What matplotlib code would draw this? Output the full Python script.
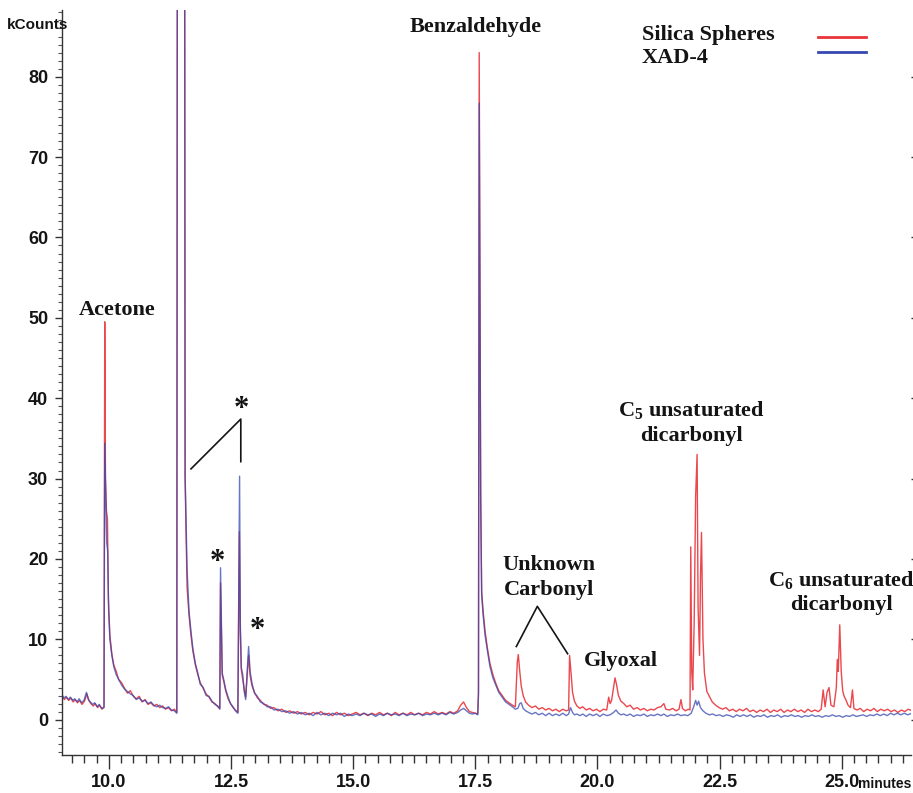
import numpy as np
import matplotlib.pyplot as plt
from matplotlib.ticker import MultipleLocator

# retention time (minutes), signal (kCounts)
silica_pts = [
    (9.04, 2.9), (9.09, 2.5), (9.13, 2.8), (9.18, 2.4), (9.22, 2.7), (9.27, 2.2),
    (9.31, 2.5), (9.36, 2.1), (9.40, 2.4), (9.45, 1.9), (9.50, 2.3), (9.55, 3.2),
    (9.59, 2.4), (9.63, 2.0), (9.68, 1.7), (9.72, 2.0), (9.77, 1.5), (9.81, 1.8),
    (9.86, 1.3), (9.90, 1.6), (9.915, 49.5), (9.93, 30.0), (9.95, 26.0), (9.97, 25.0),
    (9.99, 15.0), (10.02, 10.5), (10.06, 8.2), (10.10, 6.8), (10.15, 6.0), (10.20, 5.0),
    (10.26, 4.6), (10.32, 3.9), (10.38, 3.3), (10.44, 3.6), (10.50, 2.9), (10.56, 2.6),
    (10.62, 2.9), (10.68, 2.2), (10.74, 2.5), (10.80, 1.9), (10.86, 2.1), (10.92, 1.7),
    (10.98, 1.9), (11.04, 1.5), (11.10, 1.7), (11.16, 1.3), (11.22, 1.5), (11.28, 1.1),
    (11.34, 1.3), (11.39, 0.9), (11.41, 180), (11.54, 180), (11.56, 30.0), (11.60, 16.5),
    (11.64, 13.0), (11.68, 10.5), (11.72, 8.5), (11.77, 6.8), (11.82, 5.6), (11.87, 4.6),
    (11.93, 3.9), (11.99, 3.2), (12.05, 2.8), (12.11, 2.2), (12.17, 2.0), (12.23, 1.6),
    (12.27, 1.4), (12.285, 17.0), (12.30, 12.0), (12.32, 5.5), (12.35, 4.8), (12.39, 3.6),
    (12.44, 2.6), (12.49, 2.0), (12.54, 1.5), (12.59, 1.2), (12.64, 0.9), (12.67, 23.4),
    (12.69, 11.0), (12.71, 6.2), (12.74, 5.0), (12.77, 3.8), (12.80, 2.8), (12.83, 5.5),
    (12.86, 8.0), (12.89, 5.5), (12.93, 4.2), (12.98, 3.4), (13.04, 2.7), (13.10, 2.4),
    (13.17, 1.9), (13.24, 1.8), (13.31, 1.4), (13.38, 1.5), (13.46, 1.1), (13.54, 1.3),
    (13.62, 0.9), (13.70, 1.1), (13.78, 0.8), (13.86, 1.0), (13.94, 0.7), (14.02, 0.9),
    (14.10, 0.6), (14.18, 0.9), (14.26, 0.7), (14.34, 1.0), (14.42, 0.6), (14.50, 0.8),
    (14.58, 0.5), (14.66, 0.9), (14.74, 0.6), (14.82, 0.8), (14.90, 0.5), (14.98, 0.7),
    (15.06, 0.9), (15.14, 0.6), (15.22, 0.8), (15.30, 0.5), (15.38, 0.8), (15.46, 0.6),
    (15.54, 0.9), (15.62, 0.6), (15.70, 0.8), (15.78, 0.5), (15.86, 0.9), (15.94, 0.6),
    (16.02, 0.8), (16.10, 0.6), (16.18, 0.9), (16.26, 0.6), (16.34, 0.8), (16.42, 0.6),
    (16.50, 0.9), (16.58, 0.7), (16.66, 1.0), (16.74, 0.7), (16.82, 0.9), (16.90, 0.7),
    (16.98, 1.0), (17.06, 0.8), (17.14, 1.1), (17.20, 1.8), (17.26, 2.2), (17.32, 1.5),
    (17.38, 1.0), (17.44, 0.9), (17.50, 0.8), (17.55, 0.7), (17.565, 3.5), (17.58, 83.0),
    (17.595, 54.0), (17.61, 29.0), (17.63, 16.0), (17.66, 13.5), (17.70, 11.0), (17.75, 8.8),
    (17.80, 7.0), (17.86, 5.6), (17.92, 4.5), (17.98, 3.6), (18.05, 3.0), (18.12, 2.4),
    (18.19, 2.1), (18.26, 1.8), (18.32, 1.6), (18.36, 7.2), (18.38, 8.1), (18.41, 6.0),
    (18.44, 4.2), (18.48, 3.0), (18.53, 2.2), (18.59, 1.8), (18.66, 1.5), (18.73, 1.7),
    (18.80, 1.3), (18.87, 1.5), (18.94, 1.2), (19.01, 1.4), (19.08, 1.1), (19.15, 1.3),
    (19.22, 1.0), (19.29, 1.3), (19.36, 1.1), (19.41, 1.2), (19.43, 8.0), (19.46, 5.8),
    (19.49, 3.4), (19.53, 2.3), (19.58, 1.7), (19.64, 1.4), (19.70, 1.6), (19.77, 1.2),
    (19.84, 1.4), (19.91, 1.1), (19.98, 1.3), (20.05, 1.0), (20.12, 1.3), (20.19, 1.2),
    (20.23, 2.8), (20.26, 2.0), (20.29, 2.4), (20.33, 4.0), (20.36, 5.2), (20.39, 4.4),
    (20.43, 3.0), (20.48, 2.3), (20.54, 2.0), (20.60, 1.6), (20.67, 1.8), (20.74, 1.3),
    (20.81, 1.5), (20.88, 1.2), (20.95, 1.4), (21.02, 1.1), (21.09, 1.3), (21.16, 1.2),
    (21.23, 1.5), (21.30, 1.6), (21.36, 2.0), (21.40, 1.3), (21.47, 1.2), (21.54, 1.4),
    (21.61, 1.1), (21.67, 1.3), (21.71, 2.5), (21.74, 1.4), (21.80, 1.1), (21.86, 1.3),
    (21.895, 1.2), (21.91, 21.5), (21.93, 6.0), (21.95, 3.7), (21.98, 12.0), (22.01, 27.8),
    (22.04, 33.0), (22.06, 14.0), (22.09, 8.0), (22.11, 18.0), (22.13, 23.3), (22.16, 10.0),
    (22.19, 5.8), (22.24, 3.5), (22.29, 2.9), (22.35, 2.2), (22.42, 1.8), (22.49, 1.5),
    (22.56, 1.3), (22.63, 1.5), (22.70, 1.1), (22.77, 1.3), (22.84, 1.0), (22.91, 1.3),
    (22.98, 1.1), (23.05, 1.4), (23.12, 1.0), (23.19, 1.2), (23.26, 0.9), (23.33, 1.2),
    (23.40, 1.0), (23.47, 1.3), (23.54, 0.9), (23.61, 1.2), (23.68, 1.0), (23.75, 1.3),
    (23.82, 0.9), (23.89, 1.2), (23.96, 1.0), (24.03, 1.3), (24.10, 1.0), (24.17, 1.2),
    (24.24, 0.9), (24.31, 1.3), (24.38, 1.0), (24.45, 1.2), (24.52, 1.0), (24.58, 1.3),
    (24.62, 3.7), (24.66, 1.6), (24.70, 3.4), (24.74, 4.0), (24.78, 1.8), (24.84, 1.6),
    (24.89, 4.0), (24.91, 7.5), (24.93, 6.0), (24.96, 11.8), (24.99, 6.0), (25.02, 3.6),
    (25.05, 2.9), (25.09, 2.4), (25.13, 1.8), (25.18, 1.5), (25.22, 3.7), (25.25, 1.4),
    (25.31, 1.2), (25.38, 1.4), (25.45, 1.0), (25.52, 1.3), (25.59, 1.1), (25.66, 1.4),
    (25.73, 1.0), (25.80, 1.3), (25.87, 1.1), (25.94, 1.3), (26.01, 1.0), (26.08, 1.2),
    (26.15, 0.9), (26.22, 1.2), (26.29, 1.0), (26.36, 1.3), (26.44, 1.1),
]

xad4_pts = [
    (9.04, 3.1), (9.08, 2.7), (9.12, 2.9), (9.17, 2.5), (9.21, 2.8), (9.26, 2.4),
    (9.30, 2.6), (9.35, 2.2), (9.39, 2.6), (9.44, 2.1), (9.49, 2.4), (9.54, 3.4),
    (9.58, 2.5), (9.62, 2.2), (9.67, 1.9), (9.71, 2.1), (9.76, 1.6), (9.80, 1.9),
    (9.85, 1.4), (9.90, 1.5), (9.915, 34.4), (9.935, 28.0), (9.955, 22.0), (9.975, 21.0),
    (9.995, 13.5), (10.02, 10.0), (10.06, 8.0), (10.10, 6.6), (10.15, 5.6), (10.20, 5.0),
    (10.26, 4.3), (10.32, 3.8), (10.38, 3.5), (10.44, 3.2), (10.50, 3.0), (10.56, 2.5),
    (10.62, 2.7), (10.68, 2.3), (10.74, 2.4), (10.80, 2.0), (10.86, 2.2), (10.92, 1.8),
    (10.98, 1.6), (11.04, 1.8), (11.10, 1.5), (11.16, 1.4), (11.22, 1.6), (11.28, 1.2),
    (11.34, 1.1), (11.39, 0.8), (11.41, 180), (11.54, 180), (11.56, 30.5), (11.60, 18.7),
    (11.64, 13.5), (11.68, 11.0), (11.72, 8.8), (11.77, 7.0), (11.82, 5.8), (11.87, 4.4),
    (11.93, 4.0), (11.99, 3.0), (12.05, 2.9), (12.11, 2.3), (12.17, 1.9), (12.23, 1.7),
    (12.27, 1.3), (12.285, 18.9), (12.30, 13.0), (12.32, 5.8), (12.35, 5.0), (12.39, 3.8),
    (12.44, 2.8), (12.49, 2.0), (12.54, 1.6), (12.59, 1.1), (12.64, 0.8), (12.675, 30.3),
    (12.69, 12.0), (12.71, 6.5), (12.74, 5.6), (12.77, 3.5), (12.80, 2.5), (12.83, 6.0),
    (12.86, 9.1), (12.89, 6.0), (12.93, 4.5), (12.98, 3.3), (13.04, 2.9), (13.10, 2.2),
    (13.17, 2.0), (13.24, 1.6), (13.31, 1.6), (13.38, 1.2), (13.46, 1.3), (13.54, 1.0),
    (13.62, 1.1), (13.70, 0.8), (13.78, 1.0), (13.86, 0.7), (13.94, 0.9), (14.02, 0.6),
    (14.10, 0.8), (14.18, 0.5), (14.26, 0.9), (14.34, 0.6), (14.42, 0.8), (14.50, 0.5),
    (14.58, 0.8), (14.66, 0.6), (14.74, 0.8), (14.82, 0.4), (14.90, 0.7), (14.98, 0.5),
    (15.06, 0.7), (15.14, 0.5), (15.22, 0.8), (15.30, 0.6), (15.38, 0.7), (15.46, 0.4),
    (15.54, 0.7), (15.62, 0.5), (15.70, 0.8), (15.78, 0.6), (15.86, 0.7), (15.94, 0.5),
    (16.02, 0.8), (16.10, 0.5), (16.18, 0.7), (16.26, 0.6), (16.34, 0.8), (16.42, 0.5),
    (16.50, 0.7), (16.58, 0.6), (16.66, 0.8), (16.74, 0.6), (16.82, 0.8), (16.90, 0.6),
    (16.98, 0.9), (17.06, 0.7), (17.14, 0.9), (17.20, 1.2), (17.26, 1.4), (17.32, 1.1),
    (17.38, 0.8), (17.44, 0.7), (17.50, 0.8), (17.55, 0.6), (17.565, 3.0), (17.58, 76.7),
    (17.595, 50.0), (17.61, 27.0), (17.63, 15.5), (17.66, 13.0), (17.70, 10.5), (17.75, 8.5),
    (17.80, 6.6), (17.86, 5.2), (17.92, 4.3), (17.98, 3.4), (18.05, 2.8), (18.12, 2.2),
    (18.19, 1.9), (18.26, 1.6), (18.32, 1.3), (18.37, 1.4), (18.41, 2.0), (18.44, 2.1),
    (18.48, 1.4), (18.53, 1.1), (18.59, 0.9), (18.66, 0.7), (18.73, 0.9), (18.80, 0.6),
    (18.87, 0.8), (18.94, 0.5), (19.01, 0.8), (19.08, 0.5), (19.15, 0.7), (19.22, 0.5),
    (19.29, 0.8), (19.36, 0.5), (19.41, 0.7), (19.45, 1.5), (19.49, 0.9), (19.53, 0.6),
    (19.58, 0.7), (19.64, 0.5), (19.70, 0.7), (19.77, 0.4), (19.84, 0.7), (19.91, 0.5),
    (19.98, 0.7), (20.05, 0.4), (20.12, 0.7), (20.19, 0.5), (20.26, 0.6), (20.33, 0.9),
    (20.38, 1.2), (20.43, 0.8), (20.48, 0.6), (20.54, 0.7), (20.60, 0.5), (20.67, 0.7),
    (20.74, 0.4), (20.81, 0.6), (20.88, 0.5), (20.95, 0.7), (21.02, 0.4), (21.09, 0.6),
    (21.16, 0.5), (21.23, 0.7), (21.30, 0.5), (21.36, 0.7), (21.43, 0.4), (21.50, 0.6),
    (21.57, 0.5), (21.64, 0.7), (21.71, 0.5), (21.78, 0.6), (21.85, 0.5), (21.92, 0.8),
    (21.97, 1.6), (22.01, 2.4), (22.04, 1.8), (22.07, 2.3), (22.11, 1.5), (22.16, 1.1),
    (22.22, 0.8), (22.29, 0.6), (22.36, 0.7), (22.43, 0.5), (22.50, 0.6), (22.57, 0.4),
    (22.64, 0.6), (22.71, 0.5), (22.78, 0.3), (22.85, 0.6), (22.92, 0.4), (22.99, 0.6),
    (23.06, 0.4), (23.13, 0.6), (23.20, 0.3), (23.27, 0.5), (23.34, 0.4), (23.41, 0.6),
    (23.48, 0.3), (23.55, 0.5), (23.62, 0.4), (23.69, 0.6), (23.76, 0.3), (23.83, 0.5),
    (23.90, 0.4), (23.97, 0.6), (24.04, 0.4), (24.11, 0.5), (24.18, 0.3), (24.25, 0.5),
    (24.32, 0.4), (24.39, 0.6), (24.46, 0.4), (24.53, 0.5), (24.60, 0.3), (24.67, 0.5),
    (24.74, 0.4), (24.81, 0.6), (24.88, 0.4), (24.95, 0.5), (25.02, 0.3), (25.09, 0.5),
    (25.16, 0.4), (25.23, 0.6), (25.30, 0.4), (25.37, 0.5), (25.44, 0.6), (25.51, 0.4),
    (25.58, 0.6), (25.65, 0.5), (25.72, 0.7), (25.79, 0.5), (25.86, 0.7), (25.93, 0.5),
    (26.00, 0.8), (26.07, 0.6), (26.14, 0.8), (26.21, 0.6), (26.28, 0.8), (26.35, 0.6),
    (26.44, 0.8),
]

series_names = ["Silica Spheres", "XAD-4"]
x_ticks = [10.0, 12.5, 15.0, 17.5, 20.0, 22.5, 25.0]
y_ticks = [0, 10, 20, 30, 40, 50, 60, 70, 80]

RED = "#e8343a"
BLUE = "#3547b0"
INK = "#141414"

plt.rcParams["mathtext.fontset"] = "custom"
plt.rcParams["mathtext.rm"] = "Liberation Serif:bold"
plt.rcParams["mathtext.default"] = "rm"

sans = ["Liberation Sans Narrow", "Liberation Sans", "DejaVu Sans"]
serif = ["Liberation Serif", "DejaVu Serif"]

silica = np.array(silica_pts)
xad4 = np.array(xad4_pts)

fig = plt.figure(figsize=(9.13, 7.93), dpi=100)
ax = fig.add_axes([0.0679, 0.0479, 0.930, 0.9395])

ax.plot(silica[:, 0], silica[:, 1], color=RED, lw=1.0, alpha=0.9)
ax.plot(xad4[:, 0], xad4[:, 1], color=BLUE, lw=1.0, alpha=0.75)

ax.set_xlim(9.04, 26.42)
ax.set_ylim(-4.4, 88.3)

# axes frame: only left and bottom lines, ticks also on the right edge
ax.spines["top"].set_visible(False)
ax.spines["right"].set_visible(False)
for s in ("left", "bottom"):
    ax.spines[s].set_color("#333333")
    ax.spines[s].set_linewidth(1.0)

ax.set_xticks(x_ticks)
ax.set_xticklabels([f"{v:.1f}" for v in x_ticks])
ax.xaxis.set_minor_locator(MultipleLocator(0.25))
ax.set_yticks(y_ticks)
ax.yaxis.set_minor_locator(MultipleLocator(1))

ax.tick_params(axis="x", which="major", length=10, width=1, color="#333333", pad=4)
ax.tick_params(axis="x", which="minor", length=6, width=1, color="#333333")
ax.tick_params(axis="y", which="major", length=5, width=1, color="#333333", pad=5,
               right=True)
ax.tick_params(axis="y", which="minor", length=3, width=0.8, color="#555555")
ax.yaxis.set_tick_params(which="major", labelright=False)

for lab in ax.get_xticklabels() + ax.get_yticklabels():
    lab.set_fontfamily(sans)
    lab.set_fontweight("bold")
    lab.set_fontsize(13)
    lab.set_color(INK)

fig.text(0.041, 0.968, "kCounts", family=sans, weight="bold", fontsize=11,
         ha="center", va="center", color=INK)
fig.text(0.998, 0.002, "minutes", family=sans, weight="bold", fontsize=10,
         ha="right", va="bottom", color=INK)

# peak labels
lbl = dict(family=serif, weight="bold", fontsize=16, color=INK, ha="center",
           va="center", linespacing=1.3)
ax.text(10.16, 51.0, "Acetone", **lbl)
ax.text(17.50, 86.2, "Benzaldehyde", **lbl)
ax.text(19.00, 17.7, "Unknown\nCarbonyl", **lbl)
ax.text(20.47, 7.3, "Glyoxal", **lbl)
ax.text(21.92, 37.0, "C$_5$ unsaturated\ndicarbonyl", **lbl)
ax.text(24.99, 15.9, "C$_6$ unsaturated\ndicarbonyl", **lbl)

star = dict(family=serif, weight="bold", fontsize=22, color=INK, ha="center",
            va="center")
ax.text(12.72, 38.6, "*", **star)
ax.text(12.21, 19.6, "*", **star)
ax.text(13.03, 11.1, "*", **star)

ax.plot([11.68, 12.70, 12.70], [31.2, 37.4, 32.1], color=INK, lw=1.2)
ax.plot([18.34, 18.77, 19.39], [9.1, 14.1, 8.2], color=INK, lw=1.2)

# legend: names on the left, line samples on the right
ax.text(0.683, 0.966, series_names[0], transform=ax.transAxes, family=serif,
        weight="bold", fontsize=16, color=INK, va="center")
ax.text(0.683, 0.936, series_names[1], transform=ax.transAxes, family=serif,
        weight="bold", fontsize=16, color=INK, va="center")
ax.plot([0.890, 0.947], [0.964, 0.964], transform=ax.transAxes, color=RED, lw=2)
ax.plot([0.890, 0.947], [0.944, 0.944], transform=ax.transAxes, color=BLUE, lw=2)

fig.savefig("out.png", dpi=100)
